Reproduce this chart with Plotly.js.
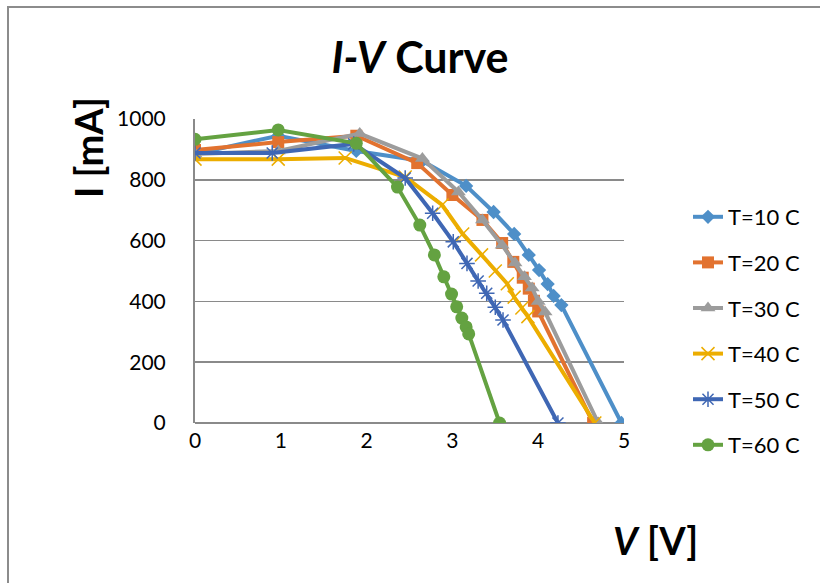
<!DOCTYPE html>
<html>
<head>
<meta charset="utf-8">
<script src="https://cdn.plot.ly/plotly-3.0.1.min.js"></script>
<style>html,body{margin:0;padding:0;background:#fff;} #chart{width:820px;height:583px;}</style>
</head>
<body>
<div id="chart"></div>
<script>
// Data
const seriesNames = ["T=10 C", "T=20 C", "T=30 C", "T=40 C", "T=50 C", "T=60 C"];

const V10 = [0, 0.97, 1.88, 2.65, 3.16, 3.48, 3.72, 3.89, 4.01, 4.11, 4.18, 4.27, 4.97];
const I10 = [885, 945, 895, 862, 780, 694, 622, 553, 503, 457, 418, 388, 0];

const V20 = [0, 0.97, 1.88, 2.59, 3.0, 3.35, 3.58, 3.71, 3.82, 3.89, 3.95, 4.0, 4.64];
const I20 = [898, 924, 945, 855, 750, 668, 592, 530, 478, 442, 402, 367, 0];

const V30 = [0, 0.97, 1.92, 2.65, 3.07, 3.35, 3.58, 3.73, 3.84, 3.93, 4.0, 4.08, 4.70];
const I30 = [885, 895, 952, 870, 760, 668, 585, 526, 481, 444, 400, 365, 0];

const V40 = [0, 0.97, 1.75, 2.45, 2.88, 3.12, 3.34, 3.5, 3.64, 3.72, 3.81, 3.88, 4.66];
const I40 = [868, 868, 872, 809, 717, 622, 553, 500, 458, 414, 378, 350, 0];

const V50 = [0, 0.9, 1.85, 2.45, 2.77, 3.01, 3.17, 3.3, 3.4, 3.5, 3.59, 4.23];
const I50 = [888, 888, 918, 806, 690, 596, 525, 467, 427, 381, 339, 0];

const V60 = [0, 0.97, 1.88, 2.36, 2.62, 2.79, 2.9, 2.99, 3.05, 3.11, 3.16, 3.19, 3.55];
const I60 = [933, 964, 920, 776, 651, 553, 481, 424, 382, 345, 316, 293, 0];

const xTicks = [0, 1, 2, 3, 4, 5];
const yTicks = [0, 200, 400, 600, 800, 1000];

const colors = ["#4E8FC8", "#E2722F", "#9C9C9C", "#ECAD00", "#3F67B4", "#64A241"];
const symbols = ["diamond", "square", "triangle-up", "x-thin-open", "asterisk-open", "circle"];
const sizes = [11, 12, 13, 13, 13, 13];

const Vs = [V10, V20, V30, V40, V50, V60];
const Is = [I10, I20, I30, I40, I50, I60];

const FONT = "Lato, 'Open Sans', sans-serif";

const traces = seriesNames.map((name, k) => ({
  type: "scatter",
  mode: "lines+markers",
  name: name,
  legendgroup: name,
  x: Vs[k],
  y: Is[k],
  line: {color: colors[k], width: 4},
  marker: {
    symbol: symbols[k],
    size: sizes[k],
    color: colors[k],
    line: {color: colors[k], width: (k === 3 || k === 4) ? 1.5 : 0}
  }
}));

const layout = {
  width: 820,
  height: 583,
  margin: {l: 195, r: 196, t: 119, b: 160},
  paper_bgcolor: "#ffffff",
  plot_bgcolor: "#ffffff",
  font: {family: FONT, color: "#000000", size: 21},
  title: {
    text: "<b><i>I-V</i> Curve</b>",
    font: {family: FONT, size: 43, color: "#000000"},
    x: 420 / 820, xref: "container", xanchor: "center",
    y: 1 - 58 / 583, yref: "container", yanchor: "middle"
  },
  xaxis: {
    range: [0, 5],
    tickvals: xTicks,
    ticktext: xTicks.map(String),
    showgrid: false,
    zeroline: false,
    showline: false,
    ticks: "",
    ticklabelstandoff: 3,
    tickfont: {family: FONT, size: 21, color: "#000"},
    fixedrange: true
  },
  yaxis: {
    range: [0, 1000],
    tickvals: yTicks,
    ticktext: yTicks.map(String),
    showgrid: true,
    gridcolor: "#8a8a8a",
    gridwidth: 1.6,
    zeroline: true,
    zerolinecolor: "#8a8a8a",
    zerolinewidth: 1.6,
    showline: true,
    linecolor: "#8a8a8a",
    linewidth: 2,
    ticks: "",
    ticklabelstandoff: 23,
    tickfont: {family: FONT, size: 21, color: "#000"},
    fixedrange: true
  },
  showlegend: true,
  legend: {
    x: (688 - 624) / 429 + 1, xanchor: "left",
    y: (423 - 196) / 304, yanchor: "top",
    font: {family: FONT, size: 22, color: "#000"},
    bgcolor: "rgba(0,0,0,0)",
    tracegroupgap: 14,
    traceorder: "grouped",
    itemwidth: 30
  },
  annotations: [
    {
      text: "<b>I [mA]</b>",
      xref: "paper", yref: "paper",
      x: (88 - 195) / 429, y: (423 - 148) / 304,
      xanchor: "center", yanchor: "middle",
      textangle: -90, showarrow: false,
      font: {family: FONT, size: 38, color: "#000"}
    },
    {
      text: "<b><i>V</i> [V]</b>",
      xref: "paper", yref: "paper",
      x: (655 - 195) / 429, y: (423 - 540) / 304,
      xanchor: "center", yanchor: "middle",
      showarrow: false,
      font: {family: FONT, size: 38, color: "#000"}
    }
  ],
  shapes: [
    {
      type: "rect", xref: "paper", yref: "paper", layer: "below",
      x0: (8 - 195) / 429, x1: 2.0,
      y0: -1.0, y1: (423 - 7) / 304,
      line: {color: "#8c8c8c", width: 2},
      fillcolor: "rgba(0,0,0,0)"
    }
  ]
};

Plotly.newPlot("chart", traces, layout, {displayModeBar: false, staticPlot: true});
</script>
</body>
</html>
